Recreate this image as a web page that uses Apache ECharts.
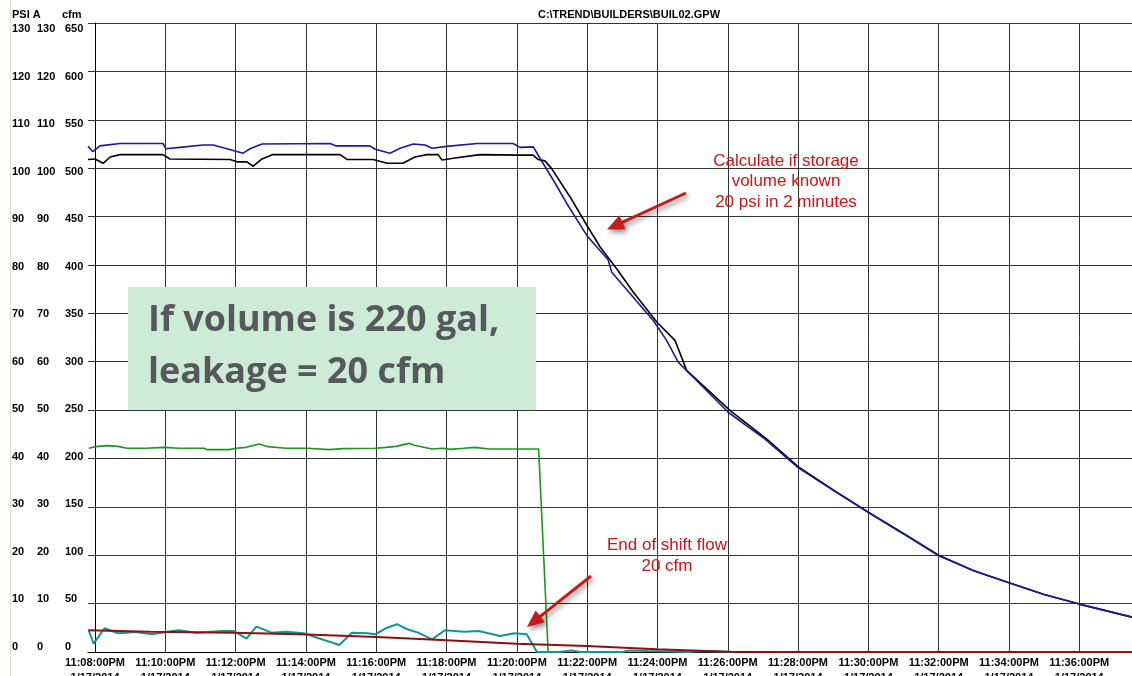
<!DOCTYPE html>
<html>
<head>
<meta charset="utf-8">
<script src="https://cdn.jsdelivr.net/npm/echarts@6/dist/echarts.min.js"></script>
<style>
html,body{margin:0;padding:0;background:#fff;}
#chart{width:1132px;height:676px;}
</style>
</head>
<body>
<div id="chart"></div>
<script>
// ---- data (x in minutes after 11:08:00 PM, 1/17/2014) ----
const xTickMinutes = [0,2,4,6,8,10,12,14,16,18,20,22,24,26,28];
const tickDate = '1/17/2014';
const title = 'C:\\TREND\\BUILDERS\\BUIL02.GPW';

// PSI series (blue)
const blueT = [-0.2,-0.06,0.14,0.71,1.93,2.02,2.42,3.07,3.36,3.7,4.21,4.41,4.75,6.69,6.86,7.82,7.97,8.39,8.68,9.05,9.39,9.59,10.01,10.87,11.89,12.09,12.47,12.66,13.04,13.42,13.99,14.6,14.7,15.22,15.88,16.26,16.59,17.21,18.02,19.06,20.0,21.0,22.0,23.0,24.0,25.0,26.0,27.0,28.0,29.5];
const blueV = [104.5,103.4,104.6,105.1,105.1,104.0,104.3,104.8,104.8,104.1,103.1,104.0,105.0,105.1,104.6,104.6,103.9,103.1,104.1,105.0,104.8,104.1,104.5,105.1,105.1,104.3,104.4,102.0,97.5,92.7,86.1,81.0,78.5,74.1,68.5,64.4,59.9,55.4,49.5,44.0,38.1,33.4,28.8,24.4,19.9,16.8,14.3,11.9,9.9,7.2];

// PSI series (black)
const blackT = [-0.2,0.0,0.23,0.43,0.71,1.93,2.13,3.84,4.04,4.32,4.5,4.75,5.06,6.97,7.17,7.91,8.31,8.76,9.1,9.45,9.76,9.87,10.24,10.95,12.09,12.46,12.6,12.8,12.99,13.51,13.99,14.37,14.84,15.31,15.98,16.5,16.83,17.4,18.07,19.11,20.0,21.0,22.0,23.0,24.0,25.0,26.0,27.0,28.0,29.5];
const blackV = [101.8,101.9,101.0,102.3,102.8,102.8,101.9,101.8,101.3,101.3,100.4,101.9,102.8,102.8,101.8,101.8,101.0,101.0,102.3,102.8,102.8,101.7,102.1,102.8,102.7,102.7,101.8,101.5,99.9,94.1,88.2,83.7,79.2,74.4,68.2,64.4,58.2,54.4,49.9,44.0,38.3,33.5,28.9,24.5,20.0,16.8,14.3,11.9,9.9,7.2];

// cfm series (green)
const greenT = [-0.18,0.03,0.34,0.65,0.91,1.45,1.96,2.39,3.1,3.19,3.81,4.01,4.3,4.67,4.92,5.43,6.03,6.66,7.06,7.97,8.28,8.57,8.93,9.08,9.59,9.9,10.1,10.5,10.81,11.21,12.12,12.62,12.89];
const greenV = [210.5,212.2,213.3,212.5,210.5,210.5,211.5,210.5,210.5,209.1,209.1,210.5,211.5,215.0,212.2,210.5,210.5,209.1,210.2,210.5,211.5,212.5,215.6,213.6,209.8,210.5,209.4,210.5,211.5,209.8,209.8,209.8,0];

// cfm series (teal)
const tealT = [-0.18,-0.04,0.27,0.65,1.16,1.62,2.07,2.38,2.88,3.6,3.95,4.31,4.59,5.02,5.43,5.93,6.95,7.31,7.76,7.97,8.27,8.59,8.88,9.19,9.59,9.95,10.51,10.91,11.52,11.93,12.28,12.57,13.2,13.55,13.8,15.0,15.2,15.7,16.9,17.2,18.2];
const tealV = [22.5,8.6,24.5,19.4,20.7,18.3,21.0,22.5,20.0,21.7,21.7,13.8,26.2,20.0,21.0,19.4,7.2,20.0,19.4,18.3,24.5,28.7,23.5,20.0,13.1,22.5,21.0,21.7,16.6,19.4,18.3,0,0,1.5,0,0,1.5,1.0,0,1.0,0];

// cfm series (dark red)
const redT = [-0.19,1.56,3.93,5.83,8.01,10.0,12.0,13.99,15.98,18.02,19.39,29.5];
const redV = [22.5,21.0,20.0,18.3,15.5,12.1,8.6,6.2,2.8,0.3,0,0];

const zip = (t, v) => t.map((x, i) => [x, v[i]]);

const chart = echarts.init(document.getElementById('chart'), null, {renderer: 'canvas'});
const FONT = '"Liberation Sans", Arial, sans-serif';

function arrow(x1, y1, x2, y2, color) {
  const dx = x2 - x1, dy = y2 - y1, L = Math.hypot(dx, dy);
  const ux = dx / L, uy = dy / L, hl = 17, hw = 7.5;
  const bx = x2 - ux * hl, by = y2 - uy * hl;
  const nx = -uy, ny = ux;
  const shadow = {shadowColor: 'rgba(0,0,0,0.45)', shadowBlur: 5, shadowOffsetX: 2, shadowOffsetY: 3};
  return [
    {type: 'line', shape: {x1: x1, y1: y1, x2: bx + ux * 2, y2: by + uy * 2},
     style: Object.assign({stroke: color, lineWidth: 3}, shadow), z: 100},
    {type: 'polygon', shape: {points: [[x2, y2], [bx + nx * hw, by + ny * hw], [bx - nx * hw, by - ny * hw]]},
     style: Object.assign({fill: color}, shadow), z: 100}
  ];
}

const redTxt = '#cc1414';
const labelBase = {fontFamily: FONT, fontWeight: 'bold', fontSize: 11, color: '#000', hideOverlap: false};

const option = {
  animation: false,
  backgroundColor: '#fff',
  grid: [
    {left: 88, right: 0, top: 23, bottom: 24, containLabel: false, outerBoundsMode: 'none'},
    {left: 88, right: 0, top: 29, bottom: 29, containLabel: false, outerBoundsMode: 'none'}
  ],
  xAxis: [
    {
      type: 'value', gridIndex: 0, min: -0.2, max: 29.5,
      axisLine: {show: true, onZero: false, lineStyle: {color: '#000', width: 1}},
      axisTick: {show: false, customValues: xTickMinutes},
      splitLine: {show: true, lineStyle: {color: '#333', width: 1}},
      axisLabel: {
        show: true, customValues: xTickMinutes, margin: 3, lineHeight: 15, hideOverlap: false,
        fontFamily: FONT, fontWeight: 'bold', fontSize: 11, color: '#000',
        formatter: function (v) {
          const m = 8 + Math.round(v);
          return '11:' + String(m).padStart(2, '0') + ':00PM\n' + tickDate;
        }
      }
    },
    {type: 'value', gridIndex: 1, min: 0, max: 1, show: false}
  ],
  yAxis: [
    {
      type: 'value', gridIndex: 0, min: 0, max: 130, interval: 10,
      axisLine: {show: true, lineStyle: {color: '#000', width: 1}},
      axisTick: {show: false}, axisLabel: {show: false},
      splitLine: {show: true, lineStyle: {color: '#333', width: 1}}
    },
    {
      type: 'value', gridIndex: 0, min: 0, max: 650, interval: 50, position: 'left',
      axisLine: {show: false}, axisTick: {show: false}, axisLabel: {show: false}, splitLine: {show: false}
    },
    {
      type: 'value', gridIndex: 1, min: 0, max: 130, interval: 10, position: 'left',
      axisLine: {show: false}, axisTick: {show: false}, splitLine: {show: false},
      axisLabel: Object.assign({margin: 76, align: 'left', verticalAlign: 'middle'}, labelBase)
    },
    {
      type: 'value', gridIndex: 1, min: 0, max: 130, interval: 10, position: 'left',
      axisLine: {show: false}, axisTick: {show: false}, splitLine: {show: false},
      axisLabel: Object.assign({margin: 51, align: 'left', verticalAlign: 'middle'}, labelBase)
    },
    {
      type: 'value', gridIndex: 1, min: 0, max: 650, interval: 50, position: 'left',
      axisLine: {show: false}, axisTick: {show: false}, splitLine: {show: false},
      axisLabel: Object.assign({margin: 23, align: 'left', verticalAlign: 'middle'}, labelBase)
    }
  ],
  series: [
    {name: 'green', type: 'line', xAxisIndex: 0, yAxisIndex: 1, data: zip(greenT, greenV),
     showSymbol: false, lineStyle: {color: '#1f951f', width: 1.6}, z: 3},
    {name: 'teal', type: 'line', xAxisIndex: 0, yAxisIndex: 1, data: zip(tealT, tealV),
     showSymbol: false, lineStyle: {color: '#169494', width: 2}, z: 3},
    {name: 'red', type: 'line', xAxisIndex: 0, yAxisIndex: 1, data: zip(redT, redV),
     showSymbol: false, lineStyle: {color: '#8c1010', width: 2}, z: 4},
    {name: 'black', type: 'line', xAxisIndex: 0, yAxisIndex: 0, data: zip(blackT, blackV),
     showSymbol: false, lineStyle: {color: '#000', width: 1.6}, z: 5},
    {name: 'blue', type: 'line', xAxisIndex: 0, yAxisIndex: 0, data: zip(blueT, blueV),
     showSymbol: false, lineStyle: {color: '#1a1a9a', width: 1.6}, z: 6}
  ],
  graphic: [
    {type: 'line', shape: {x1: 10.5, y1: 0, x2: 10.5, y2: 676}, style: {stroke: '#e2dccd', lineWidth: 1}, z: 1},
    {type: 'text', x: 629, y: 15, style: {text: title, font: 'bold 11px ' + FONT, fill: '#000', textAlign: 'center', textVerticalAlign: 'middle'}},
    {type: 'text', x: 12, y: 15, style: {text: 'PSI A', font: 'bold 11px ' + FONT, fill: '#000', textAlign: 'left', textVerticalAlign: 'middle'}},
    {type: 'text', x: 62, y: 15, style: {text: 'cfm', font: 'bold 11px ' + FONT, fill: '#000', textAlign: 'left', textVerticalAlign: 'middle'}},
    {type: 'rect', shape: {x: 128, y: 287, width: 408, height: 123}, style: {fill: '#cdebd6'}, z: 50},
    {type: 'text', x: 148, y: 321, z: 51, style: {text: 'If volume is 220 gal,', font: 'bold 36px "Open Sans", Lato, sans-serif', fill: '#55595d', textAlign: 'left', textVerticalAlign: 'middle'}},
    {type: 'text', x: 148, y: 373, z: 51, style: {text: 'leakage = 20 cfm', font: 'bold 36px "Open Sans", Lato, sans-serif', fill: '#55595d', textAlign: 'left', textVerticalAlign: 'middle'}},
    {type: 'text', x: 786, y: 161, z: 60, style: {text: 'Calculate if storage', font: '17px ' + FONT, fill: redTxt, textAlign: 'center', textVerticalAlign: 'middle'}},
    {type: 'text', x: 786, y: 181.5, z: 60, style: {text: 'volume known', font: '17px ' + FONT, fill: redTxt, textAlign: 'center', textVerticalAlign: 'middle'}},
    {type: 'text', x: 786, y: 202, z: 60, style: {text: '20 psi in 2 minutes', font: '17px ' + FONT, fill: redTxt, textAlign: 'center', textVerticalAlign: 'middle'}},
    {type: 'text', x: 667, y: 545, z: 60, style: {text: 'End of shift flow', font: '17px ' + FONT, fill: redTxt, textAlign: 'center', textVerticalAlign: 'middle'}},
    {type: 'text', x: 667, y: 566, z: 60, style: {text: '20 cfm', font: '17px ' + FONT, fill: redTxt, textAlign: 'center', textVerticalAlign: 'middle'}}
  ].concat(arrow(686, 193, 607, 229.5, '#c81a1a')).concat(arrow(591, 576, 527, 627, '#c81a1a'))
};

chart.setOption(option);
</script>
</body>
</html>
